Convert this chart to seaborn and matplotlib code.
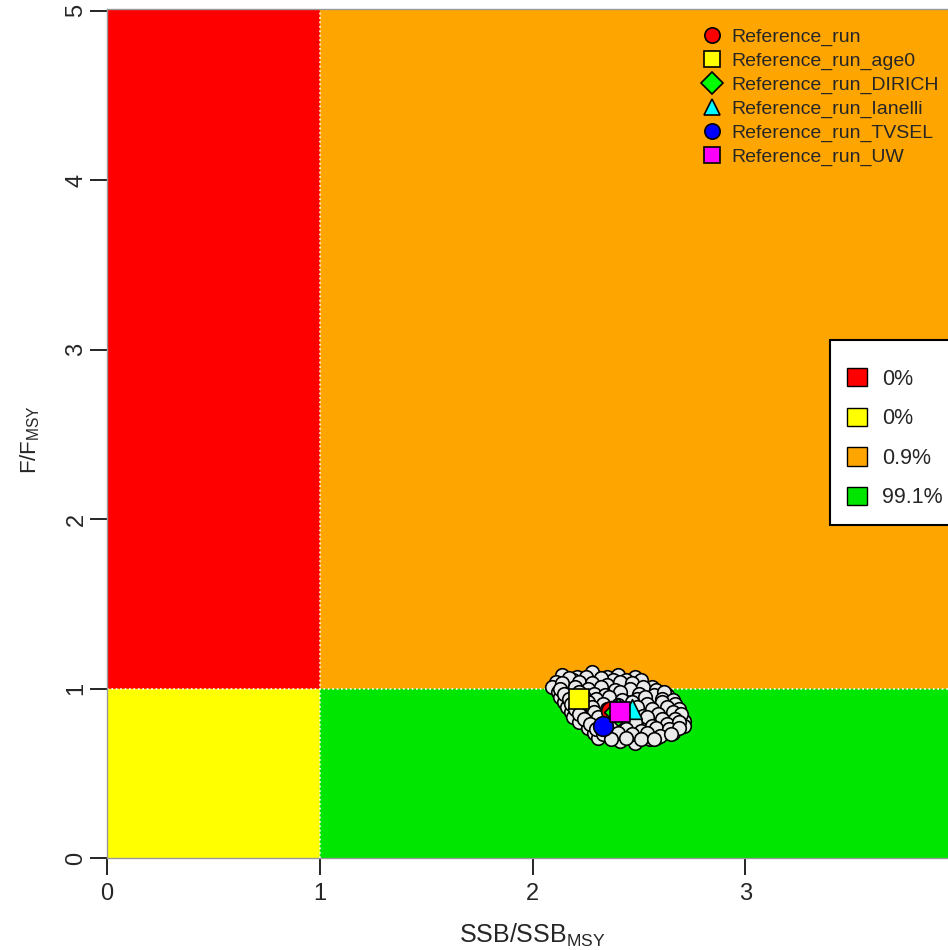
import matplotlib
matplotlib.use("Agg")
import matplotlib.pyplot as plt
from matplotlib.patches import Rectangle, Patch
from matplotlib.lines import Line2D
import seaborn as sns

# bootstrap / MCMC cloud of SSB/SSBmsy vs F/Fmsy
ssb = [2.14, 2.21, 2.28, 2.35, 2.40, 2.48,
       2.11, 2.19, 2.25, 2.31, 2.38, 2.44, 2.51,
       2.09, 2.15, 2.23, 2.29, 2.34, 2.42, 2.49, 2.56,
       2.12, 2.17, 2.26, 2.31, 2.37, 2.45, 2.53, 2.60,
       2.13, 2.20, 2.27, 2.33, 2.39, 2.47, 2.55, 2.63,
       2.15, 2.23, 2.30, 2.36, 2.43, 2.50, 2.58, 2.65,
       2.16, 2.24, 2.32, 2.38, 2.45, 2.52, 2.59, 2.66,
       2.18, 2.26, 2.33, 2.42, 2.48, 2.55, 2.61, 2.68,
       2.19, 2.27, 2.35, 2.43, 2.50, 2.57, 2.63, 2.69,
       2.22, 2.29, 2.37, 2.44, 2.51, 2.58, 2.65, 2.71,
       2.26, 2.32, 2.40, 2.46, 2.53, 2.60, 2.67, 2.71,
       2.29, 2.36, 2.42, 2.49, 2.55, 2.62, 2.66,
       2.31, 2.39, 2.46, 2.52, 2.58,
       2.41, 2.48, 2.55,
       2.17, 2.25, 2.32, 2.44,
       2.14, 2.22, 2.28, 2.35, 2.41, 2.47,
       2.13, 2.20, 2.26, 2.32, 2.39, 2.46, 2.52, 2.58,
       2.15, 2.22, 2.29, 2.34, 2.41, 2.50, 2.57, 2.62,
       2.17, 2.24, 2.30, 2.36, 2.42, 2.49, 2.53, 2.61, 2.66,
       2.18, 2.26, 2.33, 2.40, 2.47, 2.54, 2.61, 2.67,
       2.20, 2.28, 2.35, 2.43, 2.49, 2.56, 2.63, 2.69,
       2.22, 2.29, 2.38, 2.45, 2.52, 2.59, 2.66, 2.70,
       2.24, 2.31, 2.40, 2.47, 2.54, 2.61, 2.67,
       2.27, 2.34, 2.41, 2.48, 2.56, 2.63, 2.69,
       2.30, 2.38, 2.44, 2.51, 2.58, 2.64, 2.69,
       2.33, 2.40, 2.47, 2.54, 2.60, 2.65,
       2.37, 2.44, 2.51, 2.57]
f = [1.08, 1.07, 1.10, 1.07, 1.08, 1.07,
     1.04, 1.05, 1.06, 1.04, 1.05, 1.03, 1.05,
     1.01, 1.02, 1.01, 1.03, 1.01, 1.02, 1.00, 1.01,
     0.98, 0.99, 0.98, 1.00, 0.98, 0.99, 0.98, 0.97,
     0.95, 0.96, 0.95, 0.97, 0.95, 0.96, 0.95, 0.96,
     0.92, 0.93, 0.92, 0.94, 0.92, 0.93, 0.92, 0.93,
     0.89, 0.90, 0.89, 0.91, 0.89, 0.90, 0.89, 0.90,
     0.86, 0.87, 0.86, 0.88, 0.86, 0.87, 0.86, 0.87,
     0.83, 0.84, 0.83, 0.85, 0.83, 0.84, 0.83, 0.84,
     0.80, 0.81, 0.80, 0.82, 0.80, 0.81, 0.80, 0.81,
     0.77, 0.78, 0.77, 0.79, 0.77, 0.78, 0.77, 0.78,
     0.74, 0.75, 0.74, 0.76, 0.74, 0.75, 0.74,
     0.71, 0.72, 0.71, 0.72, 0.71,
     0.69, 0.68, 0.70,
     1.06, 1.07, 1.06, 1.05,
     1.03, 1.04, 1.03, 1.02, 1.04, 1.03,
     1.00, 1.01, 1.00, 1.01, 0.99, 1.00, 1.01, 0.99,
     0.97, 0.98, 0.97, 0.96, 0.98, 0.97, 0.96, 0.98,
     0.94, 0.95, 0.94, 0.95, 0.93, 0.94, 0.95, 0.94, 0.93,
     0.91, 0.92, 0.91, 0.90, 0.92, 0.91, 0.92, 0.91,
     0.88, 0.89, 0.88, 0.87, 0.89, 0.88, 0.89, 0.88,
     0.85, 0.86, 0.85, 0.86, 0.84, 0.85, 0.86, 0.85,
     0.82, 0.83, 0.82, 0.81, 0.83, 0.82, 0.82,
     0.79, 0.80, 0.79, 0.80, 0.78, 0.79, 0.80,
     0.76, 0.77, 0.76, 0.75, 0.77, 0.76, 0.77,
     0.73, 0.74, 0.73, 0.74, 0.72, 0.73,
     0.70, 0.71, 0.70, 0.70]

runs = ["Reference_run", "Reference_run_age0", "Reference_run_DIRICH",
        "Reference_run_Ianelli", "Reference_run_TVSEL", "Reference_run_UW"]
run_ssb = [2.37, 2.22, 2.40, 2.47, 2.33, 2.41]
run_f = [0.87, 0.94, 0.86, 0.88, 0.78, 0.86]
run_colors = ["#FF0000", "#FFFF00", "#00FF00", "#00FFFF", "#0000FF", "#FF00FF"]
run_markers = ["o", "s", "D", "^", "o", "s"]

quad_labels = ["0%", "0%", "0.9%", "99.1%"]
quad_colors = ["#FF0000", "#FFFF00", "#FFA500", "#00E600"]

sns.set_style("white")
plt.rcParams['font.family'] = ['Liberation Sans', 'DejaVu Sans']
plt.rcParams['mathtext.fontset'] = 'custom'
plt.rcParams['mathtext.rm'] = 'Liberation Sans'

fig = plt.figure(figsize=(9.48, 9.5), dpi=100)
ax = fig.add_axes([107 / 948, 92 / 950, 851 / 948, 849 / 950])

xmax, ymax = 4.0, 5.01
ax.add_patch(Rectangle((0, 1), 1, ymax - 1, color=quad_colors[0], zorder=0))
ax.add_patch(Rectangle((0, 0), 1, 1, color=quad_colors[1], zorder=0))
ax.add_patch(Rectangle((1, 1), xmax - 1, ymax - 1, color=quad_colors[2], zorder=0))
ax.add_patch(Rectangle((1, 0), xmax - 1, 1, color=quad_colors[3], zorder=0))
ax.axvline(1, color="white", ls=":", lw=1.2, zorder=1)
ax.axhline(1, color="white", ls=":", lw=1.2, zorder=1)

sns.scatterplot(x=ssb, y=f, ax=ax, color="#EAEAEA", edgecolor="black",
                s=95, linewidth=1.2, zorder=3, legend=False)
for i in range(len(runs)):
    sns.scatterplot(x=[run_ssb[i]], y=[run_f[i]], ax=ax, color=run_colors[i],
                    marker=run_markers[i], edgecolor="black", s=200,
                    linewidth=1.2, zorder=4 + i, legend=False)

ax.set_xlim(0, xmax)
ax.set_ylim(0, ymax)
ax.set_xticks([0, 1, 2, 3])
ax.set_yticks([0, 1, 2, 3, 4, 5])
ax.tick_params(axis="both", direction="out", length=12, width=1.2,
               color="black", labelsize=17, bottom=True, left=True)
ax.tick_params(axis="x", pad=6)
ax.tick_params(axis="y", pad=2)
for lab in ax.get_yticklabels():
    lab.set_rotation(90)
    lab.set_va("center")
for sp in ax.spines.values():
    sp.set_color("#999999")
    sp.set_linewidth(1)

fig.text(532 / 948, 1 - 935 / 950, r"SSB/SSB$\mathregular{_{MSY}}$",
         ha="center", va="center", fontsize=18)
fig.text(30 / 948, 1 - 440 / 950, r"F/F$\mathregular{_{MSY}}$",
         ha="center", va="center", rotation=90, fontsize=16)

run_handles = [Line2D([], [], marker=run_markers[i], color="none",
                      markerfacecolor=run_colors[i], markeredgecolor="black",
                      markersize=11, markeredgewidth=1.2) for i in range(len(runs))]
leg1 = fig.legend(run_handles, runs, loc="upper left",
                  bbox_to_anchor=(702 / 948, 1 - 28 / 950), frameon=False,
                  fontsize=14, handlelength=1.0, handletextpad=0.5,
                  labelspacing=0.32, borderpad=0, borderaxespad=0)

# boxed legend with the share of points in each quadrant
fig.patches.append(Rectangle((830 / 948, 1 - 525 / 950), 140 / 948, 185 / 950,
                             transform=fig.transFigure, facecolor="white",
                             edgecolor="black", linewidth=1.5, zorder=5))
quad_handles = [Patch(facecolor=c, edgecolor="black", linewidth=1) for c in quad_colors]
leg2 = fig.legend(quad_handles, quad_labels, loc="upper left",
                  bbox_to_anchor=(847 / 948, 1 - 368 / 950), frameon=False,
                  fontsize=15.5, handlelength=0.93, handleheight=0.93,
                  handletextpad=0.7, labelspacing=0.84, borderpad=0,
                  borderaxespad=0)
leg2.set_zorder(6)

fig.savefig("out.png", dpi=100)
